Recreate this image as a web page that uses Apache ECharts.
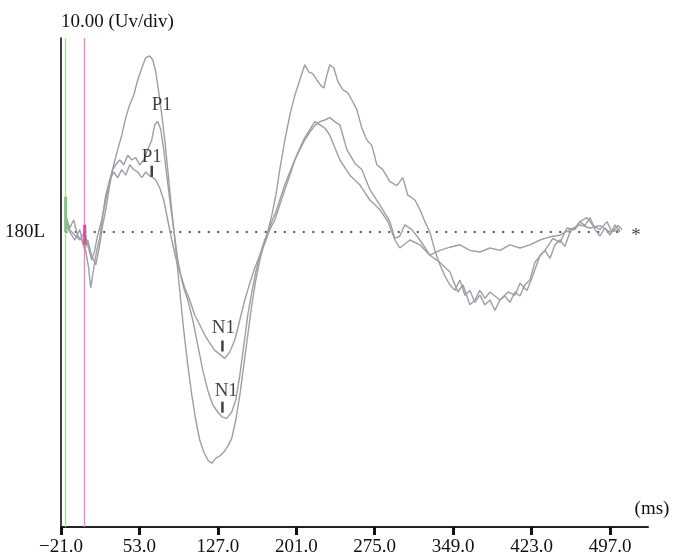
<!DOCTYPE html>
<html>
<head>
<meta charset="utf-8">
<script src="https://cdn.jsdelivr.net/npm/echarts@6/dist/echarts.min.js"></script>
<style>html,body{margin:0;padding:0;background:#fff}#c{width:673px;height:560px}</style>
</head>
<body>
<div id="c"></div>
<script>
// x: time in ms, y: amplitude (µV), baseline 0
const xTicks = [-21, 53, 127, 201, 275, 349, 423, 497];
const xRange = [-21, 532.8];
const yRange = [-36.875, 24.25];
const yAxisTitle = '10.00 (Uv/div)';
const xAxisTitle = '(ms)';
const channelLabel = '180L';

const traceA = [[-16.6,2.1],[-12.8,0.5],[-9.0,1.5],[-5.2,-0.5],[-1.5,-1.0],[2.3,-2.3],[5.1,-4.5],[7.0,-7.0],[9.9,-4.5],[12.7,-2.3],[15.5,-0.8],[18.4,2.1],[21.2,4.6],[25.0,6.5],[28.7,8.4],[32.5,10.3],[36.3,12.1],[40.1,14.3],[43.8,15.9],[47.6,17.1],[51.4,19.0],[55.2,20.5],[59.0,21.8],[62.7,22.0],[65.6,21.5],[68.4,20.0],[71.2,17.5],[74.1,14.6],[76.9,11.5],[79.7,7.8],[82.5,4.0],[85.4,0.3],[88.2,-3.5],[91.0,-7.3],[94.8,-12.3],[98.6,-16.6],[102.4,-20.4],[106.1,-23.5],[109.9,-26.0],[113.7,-27.5],[117.5,-28.5],[121.2,-28.9],[125.0,-28.3],[128.8,-28.0],[132.6,-27.5],[136.3,-26.8],[140.1,-25.8],[143.9,-23.5],[147.7,-20.4],[151.5,-16.6],[155.2,-12.9],[159.0,-9.1],[162.8,-6.0],[166.6,-3.5],[170.3,-1.6],[174.1,0],[177.9,2.1],[181.7,4.6],[185.4,7.8],[190.2,11.5],[194.9,14.6],[199.6,17.1],[204.3,19.0],[209.0,20.9],[212.8,20.0],[216.6,19.8],[220.4,19.0],[224.1,18.3],[227.0,18.0],[229.8,19.6],[232.6,20.9],[236.4,20.5],[240.2,18.8],[244.9,17.8],[249.6,17.4],[253.4,16.5],[258.1,15.3],[262.8,13.0],[267.6,11.5],[272.3,10.8],[277.0,8.4],[282.6,7.8],[289.3,6.3],[295.9,5.8],[301.5,6.8],[306.2,4.6],[312.9,4.0],[317.6,2.8],[322.3,1.3],[327.0,0],[331.7,-2.3],[336.5,-4.1],[341.2,-5.5],[345.9,-6.6],[350.6,-7.3],[355.3,-6.0],[360.1,-7.9],[364.8,-7.3],[369.5,-8.8],[374.2,-7.9],[379.0,-9.1],[383.7,-8.5],[388.4,-9.8],[393.1,-8.5],[397.8,-8.0],[402.5,-8.8],[407.3,-7.5],[412.0,-8.0],[416.7,-6.6],[421.4,-6.0],[426.1,-3.8],[430.9,-3.0],[435.6,-2.3],[440.3,-3.3],[445.0,-1.6],[449.7,-1.0],[454.4,-1.8],[459.2,0],[463.9,0.5],[468.6,1.3],[473.3,0.8],[478.0,1.8],[482.8,0.3],[487.5,-0.5],[492.2,0.5],[496.9,-0.4],[501.6,0.9],[506.4,0]];

const traceB = [[-16.6,0.9],[-12.8,0],[-8.1,-1.0],[-3.3,0.3],[1.4,-2.3],[4.2,-1.0],[8.0,-3.0],[11.8,-4.1],[15.5,-1.6],[18.4,0.9],[21.2,2.8],[25.0,5.9],[27.8,7.8],[30.6,8.4],[34.4,9.0],[38.2,8.4],[42.0,9.6],[45.7,9.0],[49.5,9.3],[53.3,8.4],[57.1,9.0],[60.8,10.3],[64.6,11.5],[67.4,13.4],[70.3,13.8],[73.1,12.8],[75.9,10.3],[78.8,7.1],[81.6,4.0],[85.4,0.3],[89.2,-3.5],[93.9,-6.6],[98.6,-8.5],[103.3,-11.0],[108.0,-14.1],[112.8,-17.3],[117.5,-19.8],[122.2,-21.6],[126.9,-22.5],[130.7,-23.1],[135.4,-23.3],[140.1,-22.5],[143.9,-21.0],[147.7,-17.9],[151.5,-14.1],[155.2,-10.4],[159.0,-7.5],[162.8,-5.0],[166.6,-2.9],[170.3,-1.3],[174.1,0],[177.9,1.3],[181.7,2.5],[185.4,4.0],[190.2,5.9],[194.9,7.5],[199.6,9.0],[204.3,10.3],[209.0,11.5],[213.8,12.5],[218.5,13.3],[223.2,13.8],[227.9,14.0],[232.6,14.3],[237.3,13.8],[242.1,13.4],[248.7,10.3],[256.2,8.6],[262.8,7.8],[270.4,5.3],[279.8,3.4],[289.3,1.3],[294.0,-0.8],[298.7,-0.5],[303.4,0.9],[310.0,0.3],[317.6,-1.0],[327.0,-2.9],[336.5,-3.8],[345.9,-5.0],[353.4,-7.5],[358.2,-6.6],[364.8,-9.1],[369.5,-8.5],[374.2,-7.3],[379.0,-8.3],[383.7,-7.5],[393.1,-8.5],[400.7,-7.5],[407.3,-7.9],[412.0,-6.4],[418.6,-7.3],[424.3,-5.4],[430.9,-2.9],[435.6,-2.3],[443.1,-0.8],[449.7,-1.3],[456.3,0.5],[463.9,0.3],[468.6,1.3],[475.2,1.8],[480.9,0.8],[487.5,0.3],[494.1,1.3],[498.8,0],[504.5,0.8],[508.3,0.3]];

const traceC = [[-16.6,1.3],[-12.8,0.3],[-8.1,-0.4],[-3.3,-1.0],[1.4,0],[4.2,-1.6],[8.0,-3.5],[10.8,-2.3],[13.6,-0.4],[17.4,1.5],[21.2,4.0],[25.0,6.5],[28.7,7.5],[32.5,6.8],[36.3,7.8],[40.1,7.1],[43.8,8.4],[47.6,7.8],[51.4,7.5],[55.2,6.8],[59.0,7.5],[62.7,7.0],[65.6,6.8],[68.4,6.5],[72.2,5.5],[75.9,4.0],[79.7,1.5],[83.5,-1.0],[87.3,-3.3],[91.0,-5.0],[95.8,-7.0],[100.5,-8.5],[105.2,-10.4],[109.9,-11.6],[114.6,-12.9],[119.4,-13.9],[124.1,-14.8],[128.8,-15.3],[133.5,-15.8],[138.2,-15.0],[143.0,-13.5],[147.7,-11.0],[152.4,-8.5],[157.1,-6.4],[161.8,-4.5],[166.6,-2.9],[171.3,-1.4],[176.0,0.3],[180.7,1.5],[185.4,3.4],[190.2,5.3],[194.9,7.1],[199.6,9.0],[204.3,10.5],[209.0,11.8],[213.8,12.8],[218.5,13.8],[223.2,13.4],[227.9,13.0],[232.6,12.1],[242.1,9.0],[251.5,7.1],[260.9,5.9],[270.4,4.0],[279.8,2.8],[287.4,1.3],[294.0,-1.0],[298.7,-2.0],[308.1,-1.0],[317.6,-1.6],[327.0,-2.9],[336.5,-2.3],[345.9,-1.9],[355.3,-1.6],[364.8,-2.3],[374.2,-2.5],[383.7,-2.0],[393.1,-2.3],[402.5,-1.6],[412.0,-2.0],[421.4,-1.6],[430.9,-1.0],[440.3,-0.6],[449.7,-0.4],[459.2,0.3],[468.6,0.9],[478.0,0.5],[487.5,0.8],[496.9,0],[506.4,0.3]];

// Stimulus / cursor markers (ms)
const greenCursor = -16.6;
const pinkCursor = 1.4;
const greenSegment = [[-16.6, 4.4], [-16.6, 0]];
const pinkSegment = [[1.4, 0.9], [1.4, -1.6]];
const baselineSpan = [[-17, 0], [511, 0]];

// Peak annotations: [text, ms, µV]
const peakLabels = [['P1', 74.0, 15.9], ['P1', 64.6, 9.4], ['N1', 132.1, -12.0], ['N1', 134.9, -19.9]];
const peakTicks = [[64.6, 7.6], [131.3, -14.25], [131.3, -21.9]];
const endMark = ['*', 521.5, -0.5];

const FONT = '"Liberation Serif", "DejaVu Serif", serif';
const FS = 19;
const traceColor = '#9d9ea6';

function fmt(v) {
  const s = Math.abs(v).toFixed(1);
  return v < 0 ? '\u2212' + s : s;
}

const traceSeries = [traceA, traceB, traceC].map(d => ({
  type: 'line', data: d, showSymbol: false, symbol: 'none', silent: true,
  lineStyle: { color: traceColor, width: 1.4 }, z: 3
}));

const option = {
  animation: false,
  backgroundColor: '#fff',
  grid: { left: 61, right: 25, top: 38, bottom: 33 },
  xAxis: {
    type: 'value', min: xRange[0], max: xRange[1],
    name: xAxisTitle, nameLocation: 'end', nameGap: 4,
    nameTextStyle: { fontFamily: FONT, fontSize: FS, color: '#111', align: 'center', verticalAlign: 'bottom', padding: [0, 0, 8, 0] },
    axisLine: { onZero: false, lineStyle: { color: '#222', width: 2 } },
    axisTick: { show: true, customValues: xTicks, length: 8, lineStyle: { color: '#111', width: 3 } },
    axisLabel: { customValues: xTicks, formatter: fmt, fontFamily: FONT, fontSize: FS, color: '#111', margin: 11 },
    splitLine: { show: false }
  },
  yAxis: {
    type: 'value', min: yRange[0], max: yRange[1],
    name: yAxisTitle, nameLocation: 'end', nameGap: 6,
    nameTextStyle: { fontFamily: FONT, fontSize: FS, color: '#111', align: 'left', verticalAlign: 'bottom' },
    axisLine: { show: true, onZero: false, lineStyle: { color: '#000', width: 1.5 } },
    axisTick: { show: false },
    axisLabel: { customValues: [0], formatter: () => channelLabel, fontFamily: FONT, fontSize: FS, color: '#111', margin: 16 },
    splitLine: { show: false }
  },
  series: [
    {
      type: 'line', data: baselineSpan, symbol: 'none', silent: true, z: 2,
      lineStyle: { color: '#555', width: 2, type: [2, 7.5] }
    },
    ...traceSeries,
    {
      type: 'line', data: greenSegment, symbol: 'none', silent: true, z: 5,
      lineStyle: { color: '#86c47e', width: 3 },
      markLine: { symbol: 'none', silent: true, label: { show: false },
        lineStyle: { color: '#a6d99e', width: 1.3, type: 'solid' }, data: [{ xAxis: greenCursor }] }
    },
    {
      type: 'line', data: pinkSegment, symbol: 'none', silent: true, z: 5,
      lineStyle: { color: '#e0489e', width: 3 },
      markLine: { symbol: 'none', silent: true, label: { show: false },
        lineStyle: { color: '#f27fc4', width: 1.3, type: 'solid' }, data: [{ xAxis: pinkCursor }] }
    },
    {
      type: 'scatter', data: peakTicks, symbol: 'rect', symbolSize: [2.5, 11], silent: true, z: 6,
      itemStyle: { color: '#111' }
    },
    {
      type: 'scatter', silent: true, z: 7, symbolSize: 0.1,
      itemStyle: { color: 'rgba(0,0,0,0)' },
      data: peakLabels.map(p => ({ name: p[0], value: [p[1], p[2]] })).concat([{ name: endMark[0], value: [endMark[1], endMark[2]] }]),
      label: { show: true, position: 'inside', formatter: p => p.name, fontFamily: FONT, fontSize: FS, color: '#111' }
    }
  ]
};

const chart = echarts.init(document.getElementById('c'), null, { renderer: 'canvas' });
chart.setOption(option);
</script>
</body>
</html>
